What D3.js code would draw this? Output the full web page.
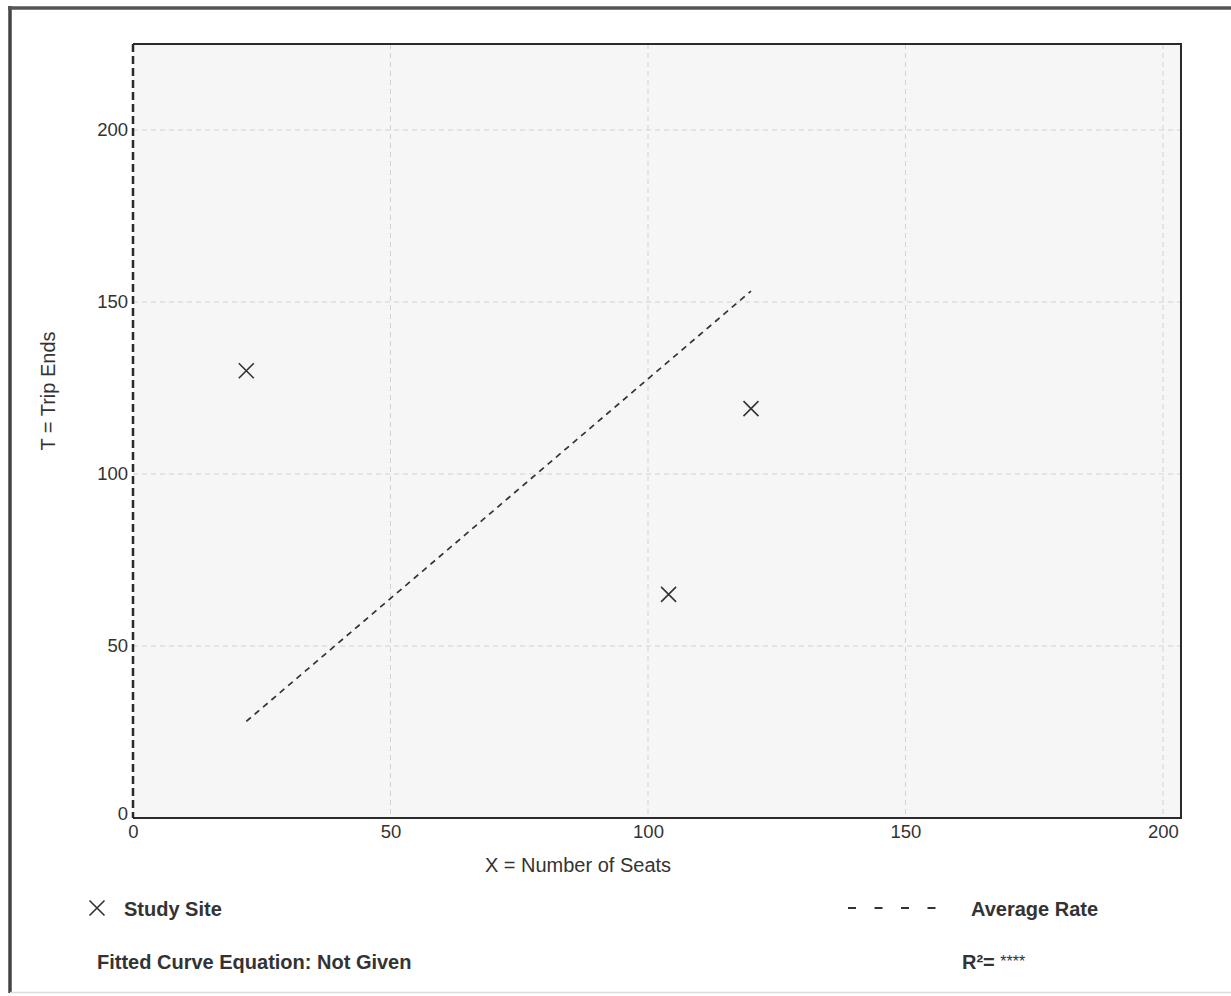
<!DOCTYPE html>
<html>
<head>
<meta charset="utf-8">
<script src="https://cdn.jsdelivr.net/npm/d3@7"></script>
<style>
  html, body { margin: 0; padding: 0; background: #fff; }
  svg { display: block; font-family: Arial, "Liberation Sans", Helvetica, sans-serif; }
</style>
</head>
<body>
<svg id="chart" width="1231" height="996"></svg>
<script>
// Study site observations: seats vs. trip ends
const siteSeats = [22, 120, 104];
const siteTrips = [130, 119, 65];

// Axis ticks
const xTicks = [0, 50, 100, 150, 200];
const yTicks = [0, 50, 100, 150, 200];

// Axis domains
const xDomain = [0, 203.5];
const yDomain = [0, 225];

// Average rate = total trips / total seats, drawn across the observed seat range
const avgRate = d3.sum(siteTrips) / d3.sum(siteSeats);
const avgLineX = [d3.min(siteSeats), d3.max(siteSeats)];

const svg = d3.select("#chart");
const plot = { left: 133, top: 44, right: 1181, bottom: 818 };

const x = d3.scaleLinear().domain(xDomain).range([plot.left, plot.right]);
const y = d3.scaleLinear().domain(yDomain).range([plot.bottom, plot.top]);

// Outer frame
svg.append("line").attr("x1", 10).attr("x2", 10).attr("y1", 6).attr("y2", 993)
  .attr("stroke", "#444").attr("stroke-width", 3.5);
svg.append("line").attr("x1", 8).attr("x2", 1231).attr("y1", 8).attr("y2", 8)
  .attr("stroke", "#555").attr("stroke-width", 3.5);
svg.append("line").attr("x1", 10).attr("x2", 1231).attr("y1", 992.5).attr("y2", 992.5)
  .attr("stroke", "#d8dde2").attr("stroke-width", 1.5);

// Plot background
svg.append("rect")
  .attr("x", plot.left).attr("y", plot.top)
  .attr("width", plot.right - plot.left).attr("height", plot.bottom - plot.top)
  .attr("fill", "#f6f6f6");

// Grid lines
const grid = svg.append("g").attr("stroke", "#d2d2d2").attr("stroke-width", 1)
  .attr("stroke-dasharray", "5,4");
grid.selectAll("line.vx").data(xTicks.filter(d => d > 0)).join("line")
  .attr("x1", d => x(d)).attr("x2", d => x(d))
  .attr("y1", plot.top).attr("y2", plot.bottom);
grid.selectAll("line.hy").data(yTicks.filter(d => d > 0)).join("line")
  .attr("x1", plot.left).attr("x2", plot.right)
  .attr("y1", d => y(d)).attr("y2", d => y(d));

// Plot border: top, right, bottom solid; left dashed
svg.append("path")
  .attr("d", `M${plot.left},${plot.top}H${plot.right}V${plot.bottom}H${plot.left}`)
  .attr("fill", "none").attr("stroke", "#2a2a2a").attr("stroke-width", 2);
svg.append("line")
  .attr("x1", plot.left).attr("x2", plot.left)
  .attr("y1", plot.top).attr("y2", plot.bottom)
  .attr("stroke", "#2a2a2a").attr("stroke-width", 2.5)
  .attr("stroke-dasharray", "8,4");

// Axes (labels only)
const xAxis = d3.axisBottom(x).tickValues(xTicks).tickSize(0).tickPadding(7);
const yAxis = d3.axisLeft(y).tickValues(yTicks).tickSize(0).tickPadding(5);

const gx = svg.append("g").attr("transform", `translate(0,${plot.bottom})`).call(xAxis);
const gy = svg.append("g").attr("transform", `translate(${plot.left},0)`).call(yAxis);
[gx, gy].forEach(g => {
  g.select(".domain").remove();
  g.selectAll("text").attr("font-size", 18.5).attr("fill", "#333")
    .attr("font-family", "Arial, 'Liberation Sans', sans-serif");
});
gy.selectAll("text").filter(d => d === 0).attr("dy", "0.1em");

// Axis titles
svg.append("text")
  .attr("x", 578).attr("y", 872)
  .attr("text-anchor", "middle").attr("font-size", 20).attr("fill", "#333")
  .text("X = Number of Seats");
svg.append("text")
  .attr("transform", `translate(55,391) rotate(-90)`)
  .attr("text-anchor", "middle").attr("font-size", 20).attr("fill", "#333")
  .text("T = Trip Ends");

// Average rate line
svg.append("line")
  .attr("x1", x(avgLineX[0])).attr("y1", y(avgLineX[0] * avgRate))
  .attr("x2", x(avgLineX[1])).attr("y2", y(avgLineX[1] * avgRate))
  .attr("stroke", "#333").attr("stroke-width", 1.7)
  .attr("stroke-dasharray", "6,5");

// Study site markers
const crossPath = s => `M${-s},${-s}L${s},${s}M${-s},${s}L${s},${-s}`;
svg.append("g").selectAll("path")
  .data(siteSeats.map((s, i) => [s, siteTrips[i]]))
  .join("path")
  .attr("transform", d => `translate(${x(d[0])},${y(d[1])})`)
  .attr("d", crossPath(7.5))
  .attr("fill", "none").attr("stroke", "#333").attr("stroke-width", 1.6);

// Legend
svg.append("path").attr("transform", "translate(97,908)").attr("d", crossPath(7.5))
  .attr("fill", "none").attr("stroke", "#333").attr("stroke-width", 1.6);
svg.append("text").attr("x", 124).attr("y", 916)
  .attr("font-size", 20).attr("font-weight", "bold").attr("fill", "#333")
  .text("Study Site");

svg.append("line").attr("x1", 848).attr("x2", 940).attr("y1", 908).attr("y2", 908)
  .attr("stroke", "#333").attr("stroke-width", 2).attr("stroke-dasharray", "8,18.5");
svg.append("text").attr("x", 971).attr("y", 916)
  .attr("font-size", 20).attr("font-weight", "bold").attr("fill", "#333")
  .text("Average Rate");

svg.append("text").attr("x", 97).attr("y", 969)
  .attr("font-size", 20).attr("font-weight", "bold").attr("fill", "#333")
  .text("Fitted Curve Equation: Not Given");

const r2 = svg.append("text").attr("x", 962).attr("y", 969)
  .attr("font-size", 20).attr("font-weight", "bold").attr("fill", "#333");
r2.append("tspan").text("R²= ");
r2.append("tspan").attr("font-weight", "normal").attr("font-size", 16).attr("dy", "-0.1em").text("****");
</script>
</body>
</html>
